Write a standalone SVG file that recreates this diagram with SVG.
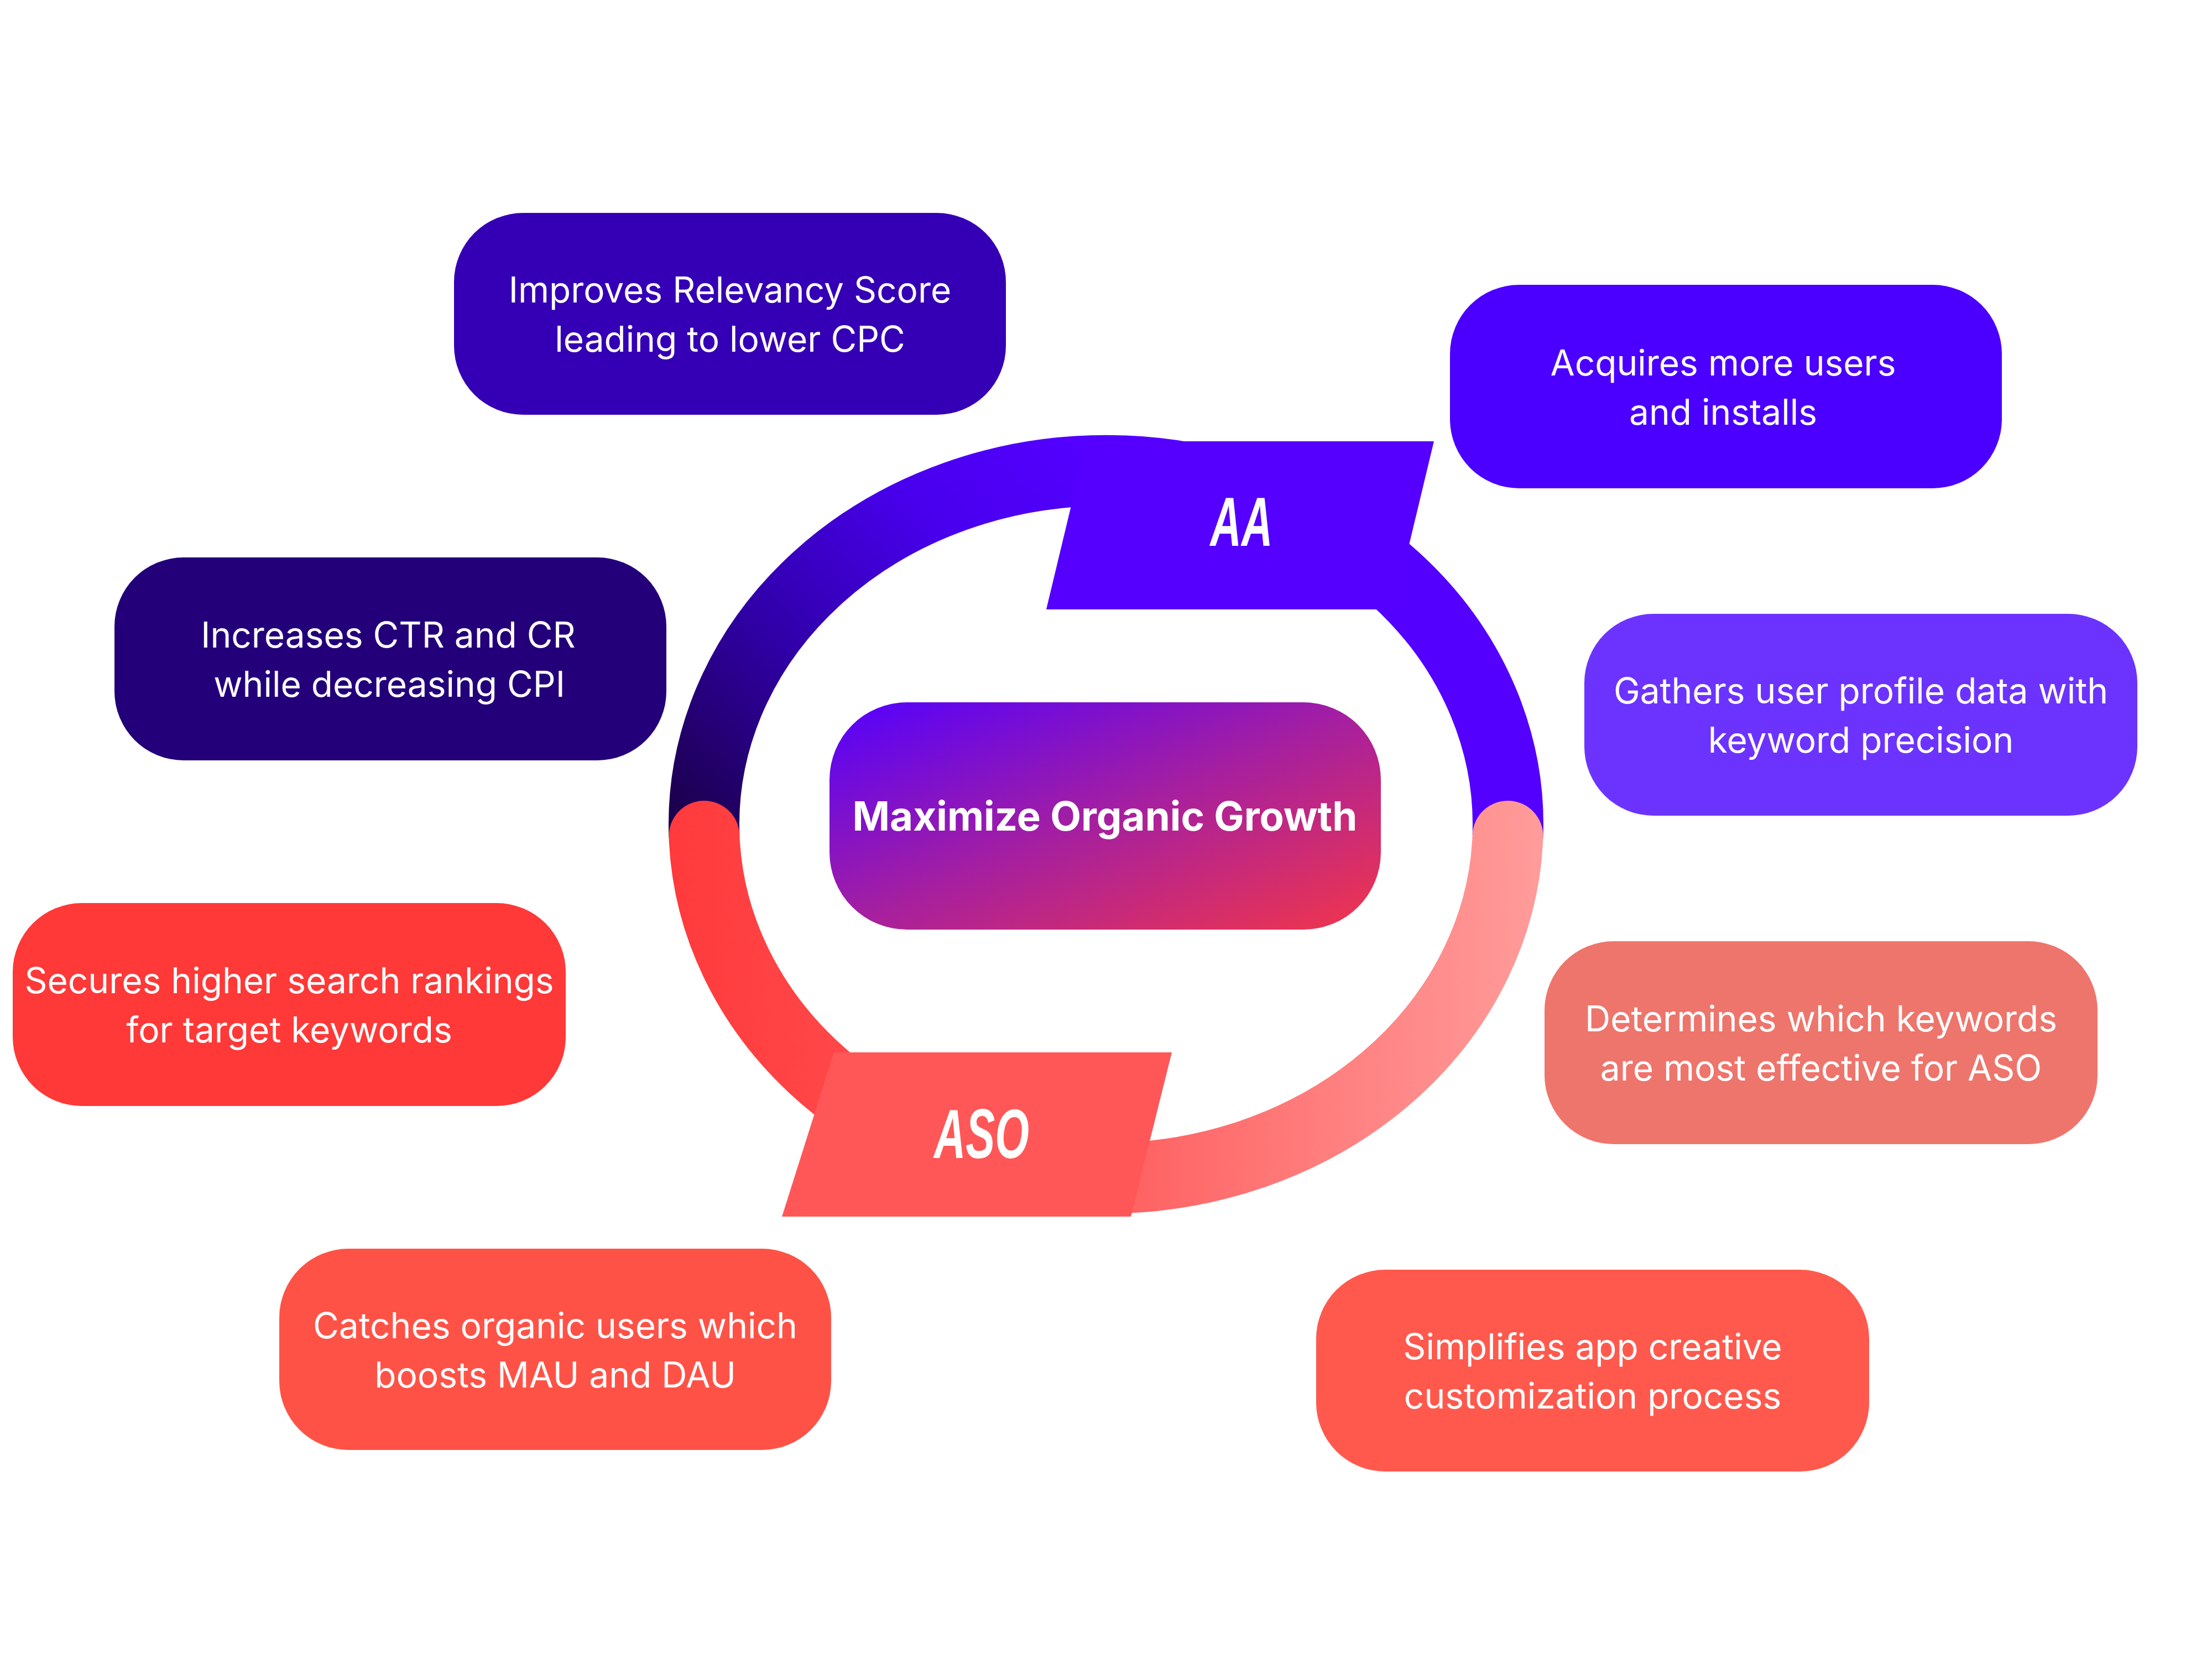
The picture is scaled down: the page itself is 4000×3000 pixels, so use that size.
<svg xmlns="http://www.w3.org/2000/svg" width="4000" height="3000" viewBox="0 0 4000 3000">
<defs>
<linearGradient id="gTop" gradientUnits="userSpaceOnUse" x1="1250" y1="1480" x2="1950" y2="800">
<stop offset="0" stop-color="#1C0050"/>
<stop offset="0.35" stop-color="#3000A8"/>
<stop offset="0.7" stop-color="#4800EC"/>
<stop offset="1" stop-color="#5300FF"/>
</linearGradient>
<linearGradient id="gBot" gradientUnits="userSpaceOnUse" x1="1210" y1="0" x2="2790" y2="0">
<stop offset="0" stop-color="#FF3A3C"/>
<stop offset="0.45" stop-color="#FF5858"/>
<stop offset="0.75" stop-color="#FF7E7E"/>
<stop offset="1" stop-color="#FF9C9A"/>
</linearGradient>
<linearGradient id="gCenter" x1="0" y1="0" x2="1" y2="1">
<stop offset="0" stop-color="#5200FF"/>
<stop offset="0.5" stop-color="#A51FA0"/>
<stop offset="1" stop-color="#F2364A"/>
</linearGradient>
<style>
.box text{font-family:Inter,"Noto Sans",sans-serif;font-size:64px;fill:#fff;text-anchor:middle}
.ctr{font-family:Inter,"Noto Sans",sans-serif;font-size:72.5px;font-weight:700;fill:#fff;text-anchor:middle}
.tag{font-family:"Liberation Sans",Arial,sans-serif;font-size:126px;font-weight:700;font-style:italic;fill:#fff;text-anchor:middle}
</style>
</defs>
<rect width="4000" height="3000" fill="#fff"/>
<g id="connectors">
<path d="M1273.4,1512 A727 640 0 1 1 2726.6,1512" fill="none" stroke="url(#gTop)" stroke-width="128"/>
<path d="M2726.6,1512 A727 640 0 0 1 1273.4,1512" fill="none" stroke="url(#gBot)" stroke-width="128" stroke-linecap="round"/>
</g>
<g id="tag-aa">
<polygon points="1965,798 2593,798 2520,1102 1892,1102" fill="#5500FF"/>
<text class="tag" transform="translate(2245,987) scale(0.62,1)">AA</text>
</g>
<g id="tag-aso">
<polygon points="1508,1903 2119,1903 2045,2200 1414,2200" fill="#FF5757"/>
<text class="tag" transform="translate(1775,2094) scale(0.63,1)">ASO</text>
</g>
<g id="center">
<rect x="1500" y="1270" width="997" height="411" rx="140" fill="url(#gCenter)"/>
<text class="ctr" x="1998" y="1502">Maximize Organic Growth</text>
</g>
<g id="n1" class="box">
<rect x="821" y="385" width="998" height="365" rx="125" fill="#3500B5"/>
<text x="1320" y="547">Improves Relevancy Score</text>
<text x="1320" y="636">leading to lower CPC</text>
</g>
<g id="n2" class="box">
<rect x="2622" y="515" width="998" height="368" rx="125" fill="#4B00FF"/>
<text x="3116" y="679">Acquires more users</text>
<text x="3116" y="768">and installs</text>
</g>
<g id="n3" class="box">
<rect x="207" y="1008" width="998" height="367" rx="125" fill="#23007A"/>
<text x="702" y="1171">Increases CTR and CR</text>
<text x="704" y="1260">while decreasing CPI</text>
</g>
<g id="n4" class="box">
<rect x="2865" y="1110" width="1000" height="365" rx="125" fill="#6C33FF"/>
<text x="3365" y="1272">Gathers user profile data with</text>
<text x="3365" y="1361">keyword precision</text>
</g>
<g id="n5" class="box">
<rect x="23" y="1633" width="1000" height="367" rx="125" fill="#FF3838"/>
<text x="523" y="1796">Secures higher search rankings</text>
<text x="523" y="1885">for target keywords</text>
</g>
<g id="n6" class="box">
<rect x="2793" y="1702" width="1000" height="367" rx="125" fill="#EE756C"/>
<text x="3293" y="1865">Determines which keywords</text>
<text x="3293" y="1954">are most effective for ASO</text>
</g>
<g id="n7" class="box">
<rect x="505" y="2258" width="998" height="364" rx="125" fill="#FF5247"/>
<text x="1004" y="2420">Catches organic users which</text>
<text x="1004" y="2509">boosts MAU and DAU</text>
</g>
<g id="n8" class="box">
<rect x="2380" y="2296" width="1000" height="365" rx="125" fill="#FF594D"/>
<text x="2880" y="2458">Simplifies app creative</text>
<text x="2880" y="2547">customization process</text>
</g>
</svg>
